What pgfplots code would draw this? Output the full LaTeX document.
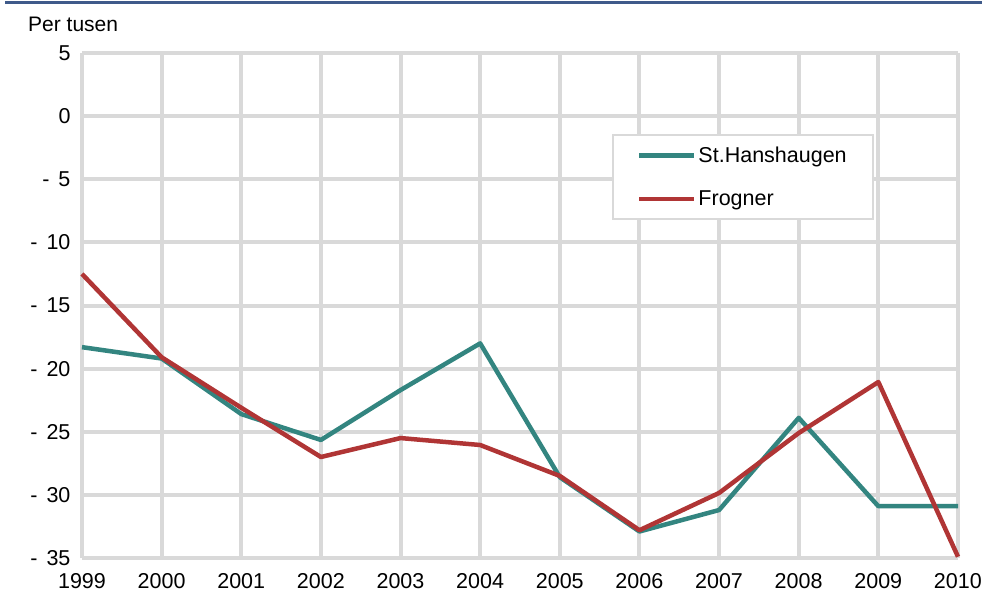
\documentclass[border=0pt]{standalone}
\usepackage{pgfplots}
\pgfplotsset{compat=1.18}
\usepackage{fontspec}
\setmainfont{Liberation Sans}
\definecolor{teal1}{HTML}{338580}
\definecolor{red1}{HTML}{B03535}
\definecolor{grid1}{HTML}{D9D9D9}
\definecolor{rule1}{HTML}{3F5A8A}
\begin{document}
\begin{tikzpicture}[x=1pt,y=1pt]
\path (0,0) rectangle (996,611);
\draw[rule1, line width=3pt] (5,608) -- (982,608);
\node[anchor=base west, font=\fontsize{21}{24}\selectfont, inner sep=0pt] at (28,579) {Per tusen};
\begin{axis}[
  at={(82pt,53pt)}, anchor=south west,
  scale only axis, width=876pt, height=505pt,
  xmin=1999, xmax=2010, ymin=-35, ymax=5,
  xtick={1999,...,2010},
  xticklabel style={/pgf/number format/1000 sep={}},
  ytick={-35,-30,...,5},
  yticklabels={-\hspace{9pt}35,-\hspace{9pt}30,-\hspace{9pt}25,-\hspace{9pt}20,-\hspace{9pt}15,-\hspace{9pt}10,-\hspace{9pt}5,0,5},
  /pgf/number format/assume math mode=true,
  tick label style={font=\fontsize{21.5}{24}\selectfont},
  xticklabel style={yshift=-12pt},
  yticklabel style={xshift=-8pt},
  grid=major,
  major grid style={grid1, line width=4pt},
  axis line style={draw=none},
  major tick style={draw=none},
  clip=false,
  legend style={at={(0.605,0.84)}, anchor=north west, draw=grid1, line width=2pt,
    font=\fontsize{21.5}{24}\selectfont, inner xsep=24pt, inner ysep=10pt, row sep=23pt},
  legend cell align=left,
  legend image code/.code={\draw[#1, line width=4.5pt] (0pt,0pt) -- (55pt,0pt);},
]
\addplot[teal1, line width=4.5pt, line join=round] coordinates {
(1999,-18.3) (2000,-19.2) (2001,-23.6) (2002,-25.65) (2003,-21.7) (2004,-18.0)
(2005,-28.6) (2006,-32.9) (2007,-31.2) (2008,-23.9) (2009,-30.9) (2010,-30.9)};
\addlegendentry{St.Hanshaugen}
\addplot[red1, line width=4.5pt, line join=round] coordinates {
(1999,-12.5) (2000,-19.1) (2001,-23.1) (2002,-27.0) (2003,-25.5) (2004,-26.05)
(2005,-28.5) (2006,-32.8) (2007,-29.85) (2008,-25.1) (2009,-21.06) (2010,-34.9)};
\addlegendentry{Frogner}
\end{axis}
\end{tikzpicture}
\end{document}
